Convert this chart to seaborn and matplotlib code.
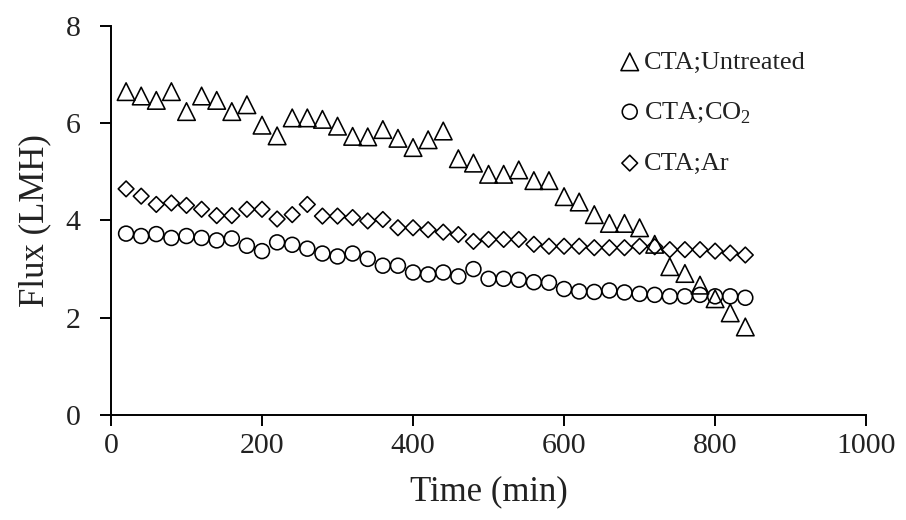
import pandas as pd
import matplotlib
matplotlib.use('Agg')
import matplotlib.pyplot as plt
import seaborn as sns

time_min = [20, 40, 60, 80, 100, 120, 140, 160, 180, 200,
            220, 240, 260, 280, 300, 320, 340, 360, 380, 400,
            420, 440, 460, 480, 500, 520, 540, 560, 580, 600,
            620, 640, 660, 680, 700, 720, 740, 760, 780, 800,
            820, 840]

flux_untreated = [6.65, 6.56, 6.47, 6.65, 6.24, 6.56, 6.47, 6.24, 6.38, 5.96,
                  5.74, 6.11, 6.11, 6.08, 5.94, 5.73, 5.72, 5.87, 5.69, 5.50,
                  5.66, 5.84, 5.27, 5.18, 4.95, 4.95, 5.04, 4.82, 4.82, 4.49,
                  4.38, 4.12, 3.94, 3.94, 3.85, 3.51, 3.05, 2.91, 2.67, 2.39,
                  2.10, 1.81]

flux_co2 = [3.73, 3.68, 3.72, 3.64, 3.68, 3.64, 3.59, 3.63, 3.48, 3.37,
            3.55, 3.50, 3.42, 3.32, 3.26, 3.32, 3.21, 3.07, 3.07, 2.93,
            2.89, 2.93, 2.85, 3.00, 2.80, 2.80, 2.78, 2.73, 2.72, 2.59,
            2.54, 2.53, 2.56, 2.52, 2.49, 2.47, 2.44, 2.44, 2.47, 2.44,
            2.44, 2.41]

flux_ar = [4.65, 4.50, 4.33, 4.36, 4.31, 4.23, 4.10, 4.10, 4.23, 4.23,
           4.03, 4.12, 4.33, 4.09, 4.09, 4.06, 3.99, 4.02, 3.85, 3.85,
           3.81, 3.76, 3.71, 3.57, 3.61, 3.61, 3.61, 3.51, 3.47, 3.47,
           3.47, 3.44, 3.44, 3.44, 3.47, 3.46, 3.40, 3.40, 3.40, 3.37,
           3.33, 3.29]

labels = ['CTA;Untreated', 'CTA;CO$_2$', 'CTA;Ar']
markers = ['^', 'o', 'D']
sizes = [160, 115, 64]

df = pd.DataFrame({
    'time': time_min * 3,
    'flux': flux_untreated + flux_co2 + flux_ar,
    'series': [labels[0]] * len(time_min) + [labels[1]] * len(time_min) + [labels[2]] * len(time_min),
})

sns.set_style('ticks')
plt.rcParams['font.family'] = ['Liberation Serif', 'DejaVu Serif']
plt.rcParams['mathtext.fontset'] = 'custom'
plt.rcParams['mathtext.rm'] = 'Liberation Serif'

fig = plt.figure(figsize=(9.06, 5.2), dpi=100)
ax = fig.add_axes([0.1225, 0.202, 0.8335, 0.748])

for lab, mk, sz in zip(labels, markers, sizes):
    sub = df[df['series'] == lab]
    sns.scatterplot(data=sub, x='time', y='flux', ax=ax, marker=mk, s=sz,
                    facecolors='none', edgecolor='black', linewidth=1.15,
                    label=lab, zorder=3)

ax.set_xlim(0, 1000)
ax.set_ylim(0, 8)
ax.set_xticks(range(0, 1001, 200))
ax.set_yticks(range(0, 9, 2))
ax.set_xlabel('Time (min)', fontsize=25, color='#222222', labelpad=12)
ax.set_ylabel('Flux (LMH)', fontsize=25, color='#222222', labelpad=10)
ax.tick_params(axis='both', labelsize=21.5, length=8, width=1.4,
               direction='out', colors='black', labelcolor='#222222')
ax.tick_params(axis='y', pad=14)
ax.tick_params(axis='x', pad=5)
sns.despine(ax=ax)
for side in ['left', 'bottom']:
    ax.spines[side].set_linewidth(1.4)
    ax.spines[side].set_color('black')

leg = ax.legend(loc='upper left', bbox_to_anchor=(0.645, 0.985), frameon=False,
                fontsize=19, handletextpad=0.05, labelspacing=1.0,
                handlelength=1.0, borderaxespad=0.3)
for t in leg.get_texts():
    t.set_color('#222222')

plt.savefig('out.png', dpi=100)
